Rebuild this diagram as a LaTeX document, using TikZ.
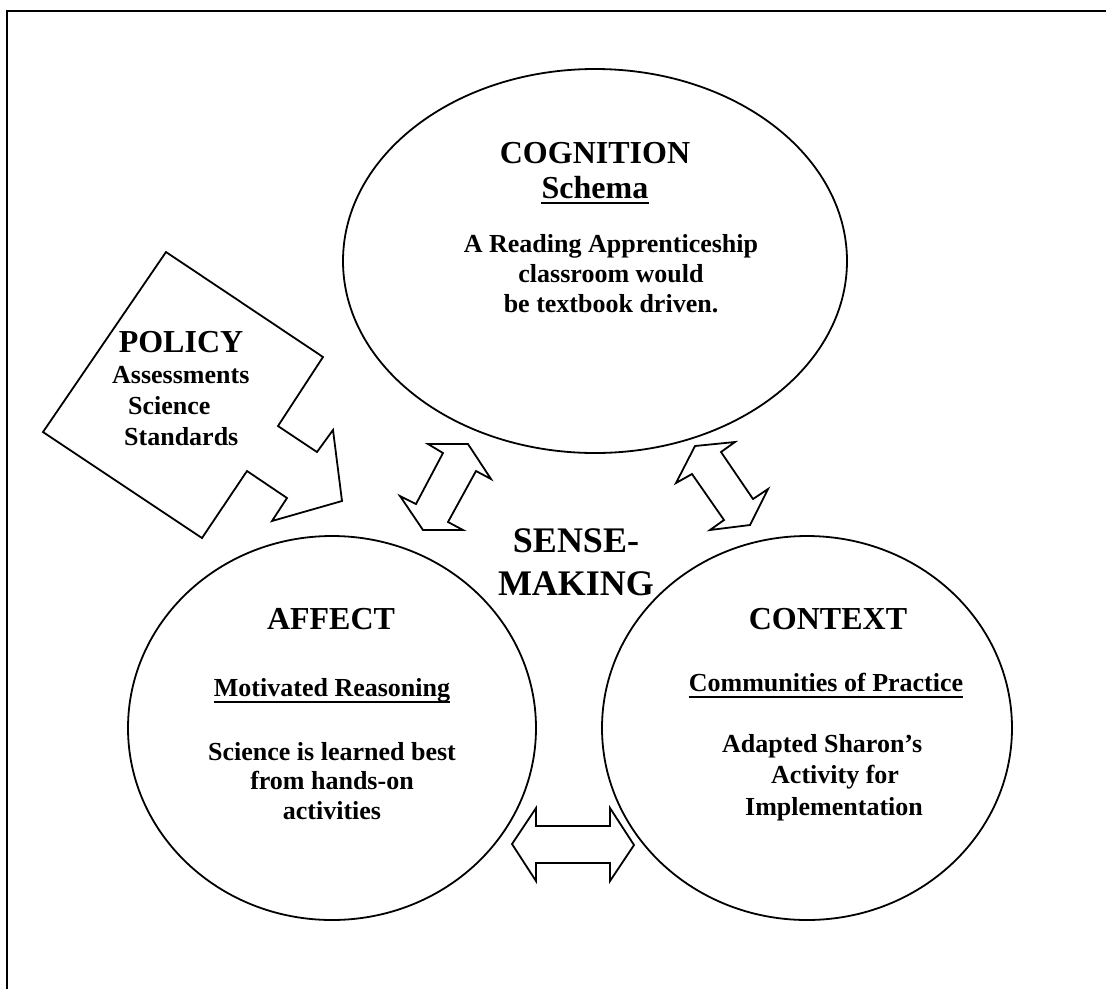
\documentclass[tikz,border=0pt]{standalone}
\usepackage{fontspec}
\setmainfont{Liberation Serif}
\usetikzlibrary{shapes.geometric,positioning}

\begin{document}
\begin{tikzpicture}[x=1pt, y=-1pt,
    bubble/.style={ellipse, draw, line width=1.8pt, inner sep=0pt},
    head/.style={font=\bfseries\fontsize{32}{36}\selectfont, anchor=base, inner sep=0pt},
    body/.style={font=\bfseries\fontsize{26}{30}\selectfont, anchor=base, inner sep=0pt, align=center},
    blockarrow/.style={draw, line width=1.8pt, fill=white, line join=miter},
    uline/.style={line width=2.2pt}]
    \useasboundingbox (0,0) rectangle (1106,989);

    % Frame
    \draw[line width=2.5pt] (1106,11) -- (7,11) -- (7,989);

    % Circles
    \node[bubble, minimum width=504pt, minimum height=384pt] (cognition) at (595,261) {};
    \node[bubble, minimum width=408pt, minimum height=384pt] (affect) at (332,728) {};
    \node[bubble, minimum width=410pt, minimum height=384pt] (context) at (807,728) {};

    % Policy arrow
    \draw[blockarrow] (166,252) -- (323,357) -- (278,426) -- (317,452) -- (333,430)
        -- (342,501) -- (272,521) -- (287,498) -- (247,471) -- (202,538) -- (43,432) -- cycle;

    % Double arrows
    \draw[blockarrow] (428,444) -- (468,444) -- (491,479) -- (476,471) -- (448,522)
        -- (463,530) -- (423,530) -- (400,496) -- (416,504) -- (443,453) -- cycle;
    \draw[blockarrow] (695,446) -- (735,442) -- (721,452) -- (753,499) -- (768,489)
        -- (750,525) -- (710,530) -- (724,520) -- (692,474) -- (676,483) -- cycle;
    \draw[blockarrow] (512,844) -- (536,808) -- (536,826) -- (610,826) -- (610,808)
        -- (634,845) -- (610,881) -- (610,863) -- (536,863) -- (536,881) -- cycle;

    % Cognition
    \node[head] (cogtitle) at (595,163) {COGNITION};
    \node[head] (schema) at (595,198) {Schema};
    \draw[uline] ([yshift=-5pt]schema.base west) -- ([yshift=-5pt]schema.base east);
    \node[body] (cogtext) at (611,312) {A Reading Apprenticeship\\classroom would\\be textbook driven.};

    % Policy
    \node[head] (policy) at (181,352) {POLICY};
    \node[body, align=left, anchor=base west, font=\bfseries\fontsize{26}{31}\selectfont] (policytext)
        at (112,445) {Assessments\\\hspace*{16pt}Science\\\hspace*{12pt}Standards};

    % Sense-making
    \node[head, align=center, font=\bfseries\fontsize{36}{43}\selectfont] (sense) at (576,595) {SENSE-\\MAKING};

    % Affect
    \node[head] (afftitle) at (331,629) {AFFECT};
    \node[body] (motiv) at (332,696) {Motivated Reasoning};
    \draw[uline] ([yshift=-6pt]motiv.base west) -- ([yshift=-6pt]motiv.base east);
    \node[body, font=\bfseries\fontsize{26}{29.5}\selectfont] (afftext) at (332,819)
        {Science is learned best\\from hands-on\\activities};

    % Context
    \node[head] (contitle) at (828,629) {CONTEXT};
    \node[body] (commun) at (826,691) {Communities of Practice};
    \draw[uline] ([yshift=-6pt]commun.base west) -- ([yshift=-6pt]commun.base east);
    \node[body, align=left, anchor=base west, font=\bfseries\fontsize{26}{31.5}\selectfont] (contexttext)
        at (722,815) {Adapted Sharon’s\\\hspace*{49pt}Activity for\\\hspace*{23pt}Implementation};
\end{tikzpicture}
\end{document}
